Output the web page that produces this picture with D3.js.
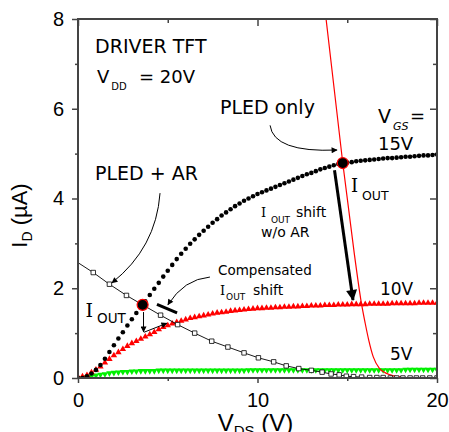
<!DOCTYPE html>
<html>
<head>
<meta charset="utf-8">
<script src="https://cdn.jsdelivr.net/npm/d3@7.9.0/dist/d3.min.js"></script>
<style>
  html, body { margin: 0; padding: 0; background: #fff; }
  svg { display: block; }
  .tick text { font-family: "Liberation Sans", Arial, sans-serif; font-size: 20px; fill: #000; }
  .note { font-family: "Comic Sans MS", "DejaVu Sans", sans-serif; fill: #000; }
  .serif { font-family: "DejaVu Serif", "Liberation Serif", serif; }
</style>
</head>
<body>
<svg id="chart" width="449" height="432"></svg>
<script>
// drain sweep, one sample every 0.25 V from 0 to 20 V
const vdsStep = 0.25;

// VGS = 15 V (black dots), uA
const id15 = [
  0, 0, 0.04, 0.10, 0.18, 0.29, 0.43, 0.58, 0.73, 0.88,
  1.02, 1.17, 1.31, 1.45, 1.58, 1.71, 1.85, 1.99, 2.12, 2.26,
  2.39, 2.52, 2.65, 2.77, 2.88, 2.99, 3.09, 3.19, 3.28, 3.37,
  3.46, 3.54, 3.62, 3.69, 3.76, 3.83, 3.89, 3.95, 4.00, 4.05,
  4.10, 4.14, 4.18, 4.22, 4.26, 4.30, 4.34, 4.38, 4.42, 4.46,
  4.50, 4.54, 4.57, 4.61, 4.65, 4.68, 4.71, 4.74, 4.77, 4.79,
  4.80, 4.81, 4.83, 4.84, 4.85, 4.86, 4.87, 4.88, 4.89, 4.90,
  4.90, 4.91, 4.92, 4.93, 4.93, 4.94, 4.95, 4.96, 4.96, 4.97,
  4.98
];

// VGS = 10 V (red triangles)
const id10 = [
  0, 0.01, 0.04, 0.10, 0.16, 0.23, 0.32, 0.40, 0.48, 0.55,
  0.62, 0.69, 0.75, 0.80, 0.85, 0.90, 0.95, 1.00, 1.06, 1.11,
  1.15, 1.19, 1.22, 1.25, 1.28, 1.31, 1.33, 1.35, 1.37, 1.39,
  1.41, 1.43, 1.44, 1.45, 1.47, 1.48, 1.49, 1.50, 1.51, 1.52,
  1.53, 1.53, 1.54, 1.54, 1.55, 1.55, 1.56, 1.56, 1.57, 1.57,
  1.58, 1.58, 1.59, 1.59, 1.59, 1.60, 1.60, 1.60, 1.61, 1.61,
  1.61, 1.62, 1.62, 1.62, 1.62, 1.63, 1.63, 1.63, 1.63, 1.63,
  1.64, 1.64, 1.64, 1.64, 1.64, 1.64, 1.65, 1.65, 1.65, 1.65,
  1.65
];

// VGS = 5 V (green triangles)
const id5 = [
  0, 0.02, 0.04, 0.06, 0.08, 0.10, 0.11, 0.13, 0.14, 0.15,
  0.16, 0.16, 0.17, 0.17, 0.18, 0.18, 0.18, 0.18, 0.19, 0.19,
  0.19, 0.19, 0.19, 0.19, 0.19, 0.19, 0.19, 0.19, 0.19, 0.19,
  0.19, 0.19, 0.19, 0.19, 0.19, 0.19, 0.19, 0.19, 0.20, 0.20,
  0.20, 0.20, 0.20, 0.20, 0.20, 0.20, 0.20, 0.20, 0.20, 0.20,
  0.20, 0.20, 0.20, 0.20, 0.20, 0.20, 0.20, 0.20, 0.20, 0.20,
  0.20, 0.20, 0.20, 0.20, 0.20, 0.20, 0.20, 0.20, 0.20, 0.20,
  0.20, 0.20, 0.20, 0.21, 0.21, 0.21, 0.21, 0.21, 0.21, 0.21,
  0.21
];

// PLED + AR load line (open squares)
const loadVds = [0, 0.85, 1.75, 2.7, 3.6, 4.6, 5.55, 6.5, 7.45, 8.35, 9.25, 10.05, 10.9,
  11.6, 12.3, 13.0, 13.6, 14.1, 14.55, 14.95, 15.35, 15.8, 16.25, 16.65, 17.0, 17.4,
  17.75, 18.1, 18.5, 18.85, 19.2, 19.6, 20.0];
const loadId = [2.57, 2.35, 2.09, 1.84, 1.63, 1.40, 1.19, 1.00, 0.82, 0.69, 0.56, 0.45, 0.36,
  0.27, 0.21, 0.17, 0.13, 0.09, 0.07, 0.04, 0.03, 0.02, 0.01, 0.01, 0.01, 0,
  0, 0, 0, 0, 0, 0, 0];

// PLED only load line (thin red)
const pledVds = [13.82, 14.75, 15.4, 15.8, 16.0, 16.2, 16.45, 16.8, 17.1, 17.4, 17.8, 18.2, 19.0, 20.0];
const pledId = [8.0, 4.79, 2.75, 1.64, 1.22, 0.84, 0.47, 0.21, 0.12, 0.07, 0.03, 0.01, 0, 0];

// operating points (big dots)
const opVds = [3.6, 14.75];
const opId = [1.63, 4.79];

const xTicks = [0, 10, 20];
const xMinor = [5, 15];
const yTicks = [0, 2, 4, 6, 8];
const yMinor = [1, 3, 5, 7];

const width = 449, height = 432;
const margin = { top: 19, right: 12, bottom: 54, left: 78 };
const axisColor = '#444';

const svg = d3.select('#chart');
const x = d3.scaleLinear().domain([0, 20]).range([margin.left, width - margin.right]);
const y = d3.scaleLinear().domain([0, 8]).range([height - margin.bottom, margin.top]);

const defs = svg.append('defs');
defs.append('clipPath').attr('id', 'plot')
  .append('rect')
  .attr('x', x(0)).attr('y', y(8))
  .attr('width', x(20) - x(0)).attr('height', y(0) - y(8));

function arrowHead(id, w, h) {
  defs.append('marker')
    .attr('id', id)
    .attr('viewBox', '0 0 10 10')
    .attr('refX', 9).attr('refY', 5)
    .attr('markerUnits', 'userSpaceOnUse')
    .attr('markerWidth', w).attr('markerHeight', h)
    .attr('orient', 'auto')
    .append('path').attr('d', 'M0,0L10,5L0,10z').attr('fill', '#000');
}
arrowHead('head', 9, 6);
arrowHead('bighead', 14, 11);

// ---- axes ----
function styleAxis(g) {
  g.select('.domain').remove();
  g.selectAll('.tick line').attr('stroke', axisColor).attr('stroke-width', 1.5);
}
svg.append('g').attr('transform', `translate(0,${y(0)})`)
  .call(d3.axisBottom(x).tickValues(xTicks).tickSize(5).tickPadding(10).tickFormat(d3.format('d')))
  .call(styleAxis);
svg.append('g').attr('transform', `translate(0,${y(0)})`)
  .call(d3.axisBottom(x).tickValues(xMinor).tickSize(3).tickFormat(''))
  .call(styleAxis);
svg.append('g').attr('transform', `translate(0,${y(8)})`)
  .call(d3.axisTop(x).tickValues(xTicks).tickSize(-7).tickFormat(''))
  .call(styleAxis);
svg.append('g').attr('transform', `translate(0,${y(8)})`)
  .call(d3.axisTop(x).tickValues(xMinor).tickSize(-4).tickFormat(''))
  .call(styleAxis);
svg.append('g').attr('transform', `translate(${x(0)},0)`)
  .call(d3.axisLeft(y).tickValues(yTicks).tickSize(6).tickPadding(8).tickFormat(d3.format('d')))
  .call(styleAxis);
svg.append('g').attr('transform', `translate(${x(0)},0)`)
  .call(d3.axisLeft(y).tickValues(yMinor).tickSize(3).tickFormat(''))
  .call(styleAxis);
svg.append('g').attr('transform', `translate(${x(20)},0)`)
  .call(d3.axisRight(y).tickValues(yTicks).tickSize(-7).tickFormat(''))
  .call(styleAxis);
svg.append('g').attr('transform', `translate(${x(20)},0)`)
  .call(d3.axisRight(y).tickValues(yMinor).tickSize(-4).tickFormat(''))
  .call(styleAxis);

// axis titles
const xTitle = svg.append('text')
  .attr('x', x(10) - 2).attr('y', 431)
  .attr('text-anchor', 'middle')
  .attr('font-family', '"Liberation Sans", Arial, sans-serif')
  .attr('font-size', 24);
xTitle.append('tspan').text('V');
xTitle.append('tspan').attr('font-size', 15).attr('dy', 5).text('DS');
xTitle.append('tspan').attr('dy', -5).text(' (V)');

const yTitle = svg.append('text')
  .attr('transform', `translate(27,${y(4) + 17}) rotate(-90)`)
  .attr('text-anchor', 'middle')
  .attr('font-family', '"Liberation Sans", Arial, sans-serif')
  .attr('font-size', 22);
yTitle.append('tspan').text('I');
yTitle.append('tspan').attr('font-size', 14).attr('dy', 5).text('D');
yTitle.append('tspan').attr('dy', -5).text(' (\u00b5A)');

// ---- data ----
const plot = svg.append('g').attr('clip-path', 'url(#plot)');
const sweep = (arr) => arr.map((v, i) => ({ vds: i * vdsStep, id: v }));

plot.selectAll('path.g5').data(sweep(id5)).join('path')
  .attr('class', 'g5')
  .attr('d', d3.symbol(d3.symbolTriangle, 18))
  .attr('transform', (d) => `translate(${x(d.vds)},${y(d.id) + 1}) rotate(180)`)
  .attr('fill', '#00f000');

plot.selectAll('path.r10').data(sweep(id10)).join('path')
  .attr('class', 'r10')
  .attr('d', d3.symbol(d3.symbolTriangle, 18))
  .attr('transform', (d) => `translate(${x(d.vds)},${y(d.id) - 1})`)
  .attr('fill', '#ff0000');

plot.selectAll('circle.b15').data(sweep(id15)).join('circle')
  .attr('class', 'b15')
  .attr('cx', (d) => x(d.vds)).attr('cy', (d) => y(d.id))
  .attr('r', 2.3)
  .attr('fill', '#000');

const line = d3.line().x((d) => x(d[0])).y((d) => y(d[1]));

plot.append('path')
  .datum(d3.zip(pledVds, pledId))
  .attr('d', line.curve(d3.curveMonotoneX))
  .attr('fill', 'none').attr('stroke', '#ff0000').attr('stroke-width', 1.2);

const loadPts = d3.zip(loadVds, loadId);
plot.append('path')
  .datum(loadPts)
  .attr('d', d3.line().x((d) => x(d[0])).y((d) => y(d[1])))
  .attr('fill', 'none').attr('stroke', '#000').attr('stroke-width', 0.9);
plot.selectAll('path.sq').data(loadPts.slice(1)).join('path')
  .attr('class', 'sq')
  .attr('d', d3.symbol(d3.symbolSquare, 20))
  .attr('transform', (d) => `translate(${x(d[0])},${y(d[1])})`)
  .attr('fill', '#fff').attr('stroke', '#000').attr('stroke-width', 0.8);

svg.selectAll('circle.op').data(d3.zip(opVds, opId)).join('circle')
  .attr('class', 'op')
  .attr('cx', (d) => x(d[0])).attr('cy', (d) => y(d[1]))
  .attr('r', 5.5)
  .attr('fill', '#000').attr('stroke', '#ff0000').attr('stroke-width', 1.2);

// frame
svg.append('rect')
  .attr('x', x(0)).attr('y', y(8))
  .attr('width', x(20) - x(0)).attr('height', y(0) - y(8))
  .attr('fill', 'none').attr('stroke', axisColor).attr('stroke-width', 2);

// ---- annotations ----
function arrow(pts, opts = {}) {
  const p = pts.map(([a, b]) => [x(a), y(b)]);
  let d;
  if (p.length === 3) d = `M${p[0]}Q${p[1]} ${p[2]}`;
  else d = `M${p[0]}L${p[1]}`;
  svg.append('path').attr('d', d)
    .attr('fill', 'none').attr('stroke', '#000')
    .attr('stroke-width', opts.w || 1)
    .attr('marker-end', opts.noHead ? null : `url(#${opts.head || 'head'})`);
}
arrow([[10.7, 5.63], [10.9, 5.02], [14.43, 5.08]]);
arrow([[4.57, 4.12], [4.35, 2.9], [1.89, 2.12]]);
arrow([[14.29, 4.63], [15.32, 1.74]], { w: 3, head: 'bighead' });
arrow([[7.35, 2.25], [5.9, 2.2], [5.01, 1.63]]);
arrow([[4.4, 1.64], [5.52, 1.45]], { w: 3, noHead: true });
arrow([[3.65, 1.47], [3.65, 1.03]]);
arrow([[3.68, 1.02], [4.95, 1.22]]);

function note(vx, iy, str, size, cls) {
  return svg.append('text')
    .attr('class', 'note' + (cls ? ' ' + cls : ''))
    .attr('x', x(vx)).attr('y', y(iy))
    .attr('font-size', size)
    .text(str);
}
note(0.95, 7.24, 'DRIVER TFT', 19);
note(1.06, 6.57, 'V', 18);
note(1.85, 6.41, 'DD', 10);
note(3.4, 6.57, '= 20V', 18);
note(7.91, 5.88, 'PLED only', 19);
note(16.71, 5.68, 'V', 19);
note(17.55, 5.52, 'GS', 11).attr('font-style', 'italic');
note(18.5, 5.7, '=', 18);
note(16.71, 5.08, '15V', 18);
note(15.21, 4.14, 'I', 18, 'serif');
note(15.82, 3.96, 'OUT', 12.5);
note(0.95, 4.41, 'PLED + AR', 19);
note(0.42, 1.36, 'I', 19, 'serif');
note(1.06, 1.22, 'OUT', 13.5);
note(10.2, 3.59, 'I', 13, 'serif');
note(10.75, 3.45, 'OUT', 9);
note(12.14, 3.59, 'shift', 14);
note(10.2, 3.14, 'w/o AR', 14);
note(7.8, 2.29, 'Compensated', 13.5);
note(7.91, 1.85, 'I', 13, 'serif');
note(8.25, 1.74, 'OUT', 9);
note(9.75, 1.85, 'shift', 14);
note(16.82, 1.85, '10V', 17);
note(17.38, 0.40, '5V', 17);
</script>
</body>
</html>
